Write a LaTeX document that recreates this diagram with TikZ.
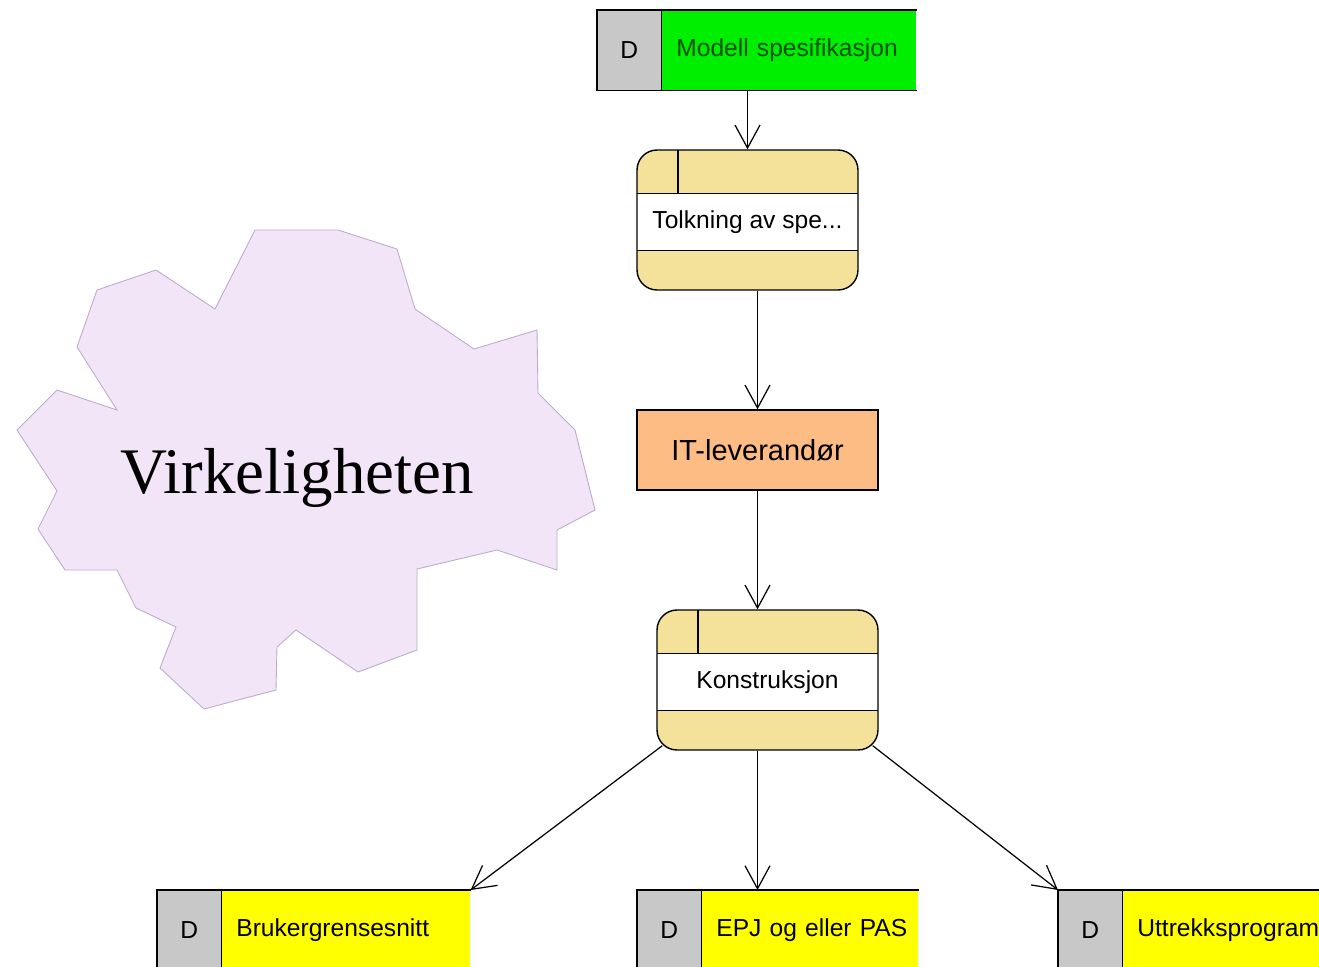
\documentclass[tikz,border=0pt]{standalone}
\usepackage{fontspec}
\setmainfont{Liberation Sans}
\newfontfamily\cloudfont{Liberation Serif}
\usetikzlibrary{arrows.meta}

\definecolor{dsgray}{RGB}{200,200,200}
\definecolor{dsgreen}{RGB}{0,238,0}
\definecolor{dsgreentext}{RGB}{0,80,0}
\definecolor{dsyellow}{RGB}{255,255,0}
\definecolor{procyellow}{RGB}{244,226,154}
\definecolor{actororange}{RGB}{252,188,132}
\definecolor{cloudfill}{RGB}{242,229,247}
\definecolor{cloudline}{RGB}{188,172,204}

\tikzset{
  dkey/.style={anchor=north west, fill=dsgray, minimum width=1.28cm, minimum height=1.6cm,
    inner sep=0pt, font=\fontsize{14}{16}\selectfont},
  dname/.style={anchor=north west, minimum height=1.6cm, inner xsep=0.3cm, inner ysep=0pt,
    align=left, font=\fontsize{14}{16}\selectfont},
  dsline/.style={line width=0.8pt},
  process/.style={draw, line width=0.8pt, fill=procyellow, rounded corners=0.4cm,
    minimum width=4.42cm, minimum height=2.8cm, inner sep=0pt, text depth=0pt,
    font=\fontsize{14}{16}\selectfont,
    path picture={
      \fill[white, sharp corners] ([yshift=-0.87cm]path picture bounding box.north west)
        rectangle ([yshift=0.79cm]path picture bounding box.south east);
      \draw[line width=0.8pt, sharp corners]
        ([yshift=-0.87cm]path picture bounding box.north west) -- ([yshift=-0.87cm]path picture bounding box.north east)
        ([yshift=0.79cm]path picture bounding box.south west) -- ([yshift=0.79cm]path picture bounding box.south east)
        ([xshift=0.82cm]path picture bounding box.north west) -- ([xshift=0.82cm,yshift=-0.87cm]path picture bounding box.north west);
    }},
  actor/.style={draw, line width=0.8pt, fill=actororange, minimum width=4.82cm, minimum height=1.6cm,
    inner sep=0pt, font=\fontsize{16.5}{18}\selectfont},
  flow/.style={line width=0.7pt, -{Straight Barb[length=0.46cm, width=0.5cm, line width=0.7pt]}},
  cloud/.style={fill=cloudfill, draw=cloudline, line width=0.5pt}
}

\begin{document}
\begin{tikzpicture}[x=0.02cm, y=-0.02cm]
\useasboundingbox (0,0) rectangle (1319,967);

% virkeligheten
\filldraw[cloud] (255,230) -- (338,230) -- (397,249) -- (415,309) -- (474,349) -- (537,330)
  -- (538,393) -- (575,430) -- (595,510) -- (557,530) -- (557,570) -- (497,550) -- (417,569)
  -- (417,650) -- (358,672) -- (296,630) -- (277,647) -- (276,690) -- (204,709) -- (160,668)
  -- (176,627) -- (136,608) -- (117,570) -- (65,570) -- (38,529) -- (57,491) -- (17,430)
  -- (57,390) -- (117,410) -- (77,347) -- (97,290) -- (156,270) -- (215,309) -- cycle;
\node[anchor=base, inner sep=0pt, font=\cloudfont\fontsize{37}{40}\selectfont] (virk) at (297,493) {Virkeligheten};

% modell spesifikasjon
\node[dkey] (modD) at (597,10) {D};
\node[dname, fill=dsgreen, text=dsgreentext, text width=4.5cm] (modell) at (661,10) {Modell spesifikasjon};
\draw[dsline] (modell.north east) -- (modD.north west) -- (modD.south west) -- (modell.south east)
  (modD.north east) -- (modD.south east);

% prosesser og aktor
\node[process] (tolk) at (747.5,220) {Tolkning av spe...};
\node[actor] (itlev) at (757.5,450) {IT-leverandør};
\node[process] (konst) at (767.5,680) {Konstruksjon};

% resultater
\node[dkey] (brukD) at (157,890) {D};
\node[dname, fill=dsyellow, text width=4.38cm] (bruk) at (221,890) {Brukergrensesnitt};
\draw[dsline] (bruk.north east) -- (brukD.north west) -- (brukD.south west) -- (bruk.south east)
  (brukD.north east) -- (brukD.south east);

\node[dkey] (epjD) at (637,890) {D};
\node[dname, fill=dsyellow, text width=3.74cm] (epj) at (701,890) {\mbox{EPJ og eller PAS}};
\draw[dsline] (epj.north east) -- (epjD.north west) -- (epjD.south west) -- (epj.south east)
  (epjD.north east) -- (epjD.south east);

\node[dkey] (uttD) at (1058,890) {D};
\node[dname, fill=dsyellow, text width=3.9cm] (utt) at (1122,890) {Uttrekksprogram};
\draw[dsline] (utt.north east) -- (uttD.north west) -- (uttD.south west) -- (utt.south east)
  (uttD.north east) -- (uttD.south east);

% flyt
\draw[flow] (tolk.north |- modell.south) -- (tolk.north);
\draw[flow] (tolk.south -| itlev.north) -- (itlev.north);
\draw[flow] (itlev.south) -- (itlev.south |- konst.north);
\draw[flow] (itlev.south |- konst.south) -- (itlev.south |- epj.north);
\draw[flow] ([xshift=0.12cm,yshift=0.1cm]konst.south west) -- (bruk.north east);
\draw[flow] ([xshift=-0.12cm,yshift=0.1cm]konst.south east) -- (uttD.north west);
\end{tikzpicture}
\end{document}
